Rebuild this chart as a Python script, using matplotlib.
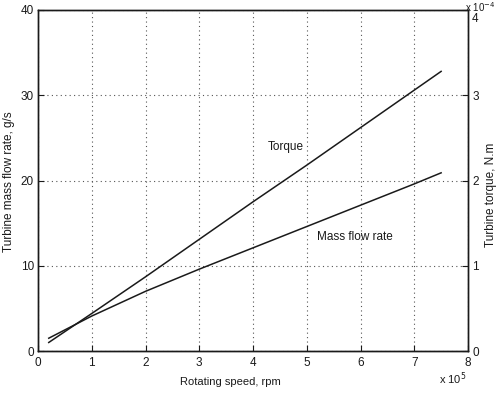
import matplotlib
matplotlib.use("Agg")
import matplotlib.pyplot as plt
import matplotlib.transforms as mtransforms
from matplotlib.ticker import FuncFormatter

plt.rcParams['font.family'] = ['Liberation Sans', 'DejaVu Sans']

# Data (rotating speed in rpm)
speed = [0.2e5, 1e5, 2e5, 3e5, 4e5, 5e5, 6e5, 7e5, 7.5e5]
mass_flow = [1.5, 4.1, 7.0, 9.6, 12.1, 14.6, 17.1, 19.6, 20.9]          # g/s
torque = [0.10e-4, 0.44e-4, 0.87e-4, 1.31e-4, 1.75e-4, 2.18e-4, 2.62e-4, 3.06e-4, 3.28e-4]  # N.m

xticks = [0, 1, 2, 3, 4, 5, 6, 7, 8]
yticks_left = [0, 10, 20, 30, 40]
yticks_right = [0, 1, 2, 3, 4]

W, H = 504, 393
C = '#1a1a1a'
fig = plt.figure(figsize=(5.04, 3.93), dpi=100)
ax = fig.add_axes([38 / W, 1 - 351 / H, 430 / W, 341 / H])
ax2 = ax.twinx()

ax.plot(speed, mass_flow, color=C, lw=1.1)
ax2.plot(speed, torque, color=C, lw=1.1)

ax.set_xlim(0, 8e5)
ax.set_ylim(0, 40)
ax2.set_ylim(0, 4e-4)

ax.set_xticks([v * 1e5 for v in xticks])
ax.xaxis.set_major_formatter(FuncFormatter(lambda v, p: f"{v/1e5:g}"))
ax.set_yticks(yticks_left)
ax2.set_yticks([v * 1e-4 for v in yticks_right])
ax2.yaxis.set_major_formatter(FuncFormatter(lambda v, p: f"{v/1e-4:g}"))

ax.grid(True, linestyle=(0, (1, 3)), color='#555555', lw=0.8)

for a in (ax, ax2):
    a.tick_params(direction='in', length=4, labelsize=8.5, colors=C, width=0.8)
    for s in a.spines.values():
        s.set_color(C)
        s.set_linewidth(1.0)
ax.tick_params(axis='x', pad=4)
ax.tick_params(axis='y', pad=3)
ax2.tick_params(axis='y', pad=3)

fig.text(230 / W, 1 - 382 / H, 'Rotating speed, rpm', fontsize=8, ha='center', va='center', color=C)
fig.text(9 / W, 1 - 182 / H, 'Turbine mass flow rate, g/s', fontsize=8.5, ha='center', va='center',
         rotation=90, color=C)
fig.text(491 / W, 1 - 195 / H, 'Turbine torque, N.m', fontsize=8.5, ha='center', va='center',
         rotation=90, color=C)

ax.text(4.61e5, 23.9, 'Torque', fontsize=8.5, ha='center', va='center', color=C)
ax.text(5.9e5, 13.4, 'Mass flow rate', fontsize=8.5, ha='center', va='center', color=C)

fig.text(453 / W, 1 - 379 / H, r'x 10$^{5}$', fontsize=8, ha='center', va='center', color=C)
fig.text(465 / W, 1 - 0.5 / H, r'x 10$^{-4}$', fontsize=7, ha='left', va='top', color=C)

# nudge the top right tick label down a little, as in the reference
fig.canvas.draw()
top_lbl = ax2.yaxis.get_major_ticks()[-1].label2
top_lbl.set_transform(top_lbl.get_transform() +
                      mtransforms.ScaledTranslation(0, -7 / 100, fig.dpi_scale_trans))

fig.savefig('out.png', dpi=100)
